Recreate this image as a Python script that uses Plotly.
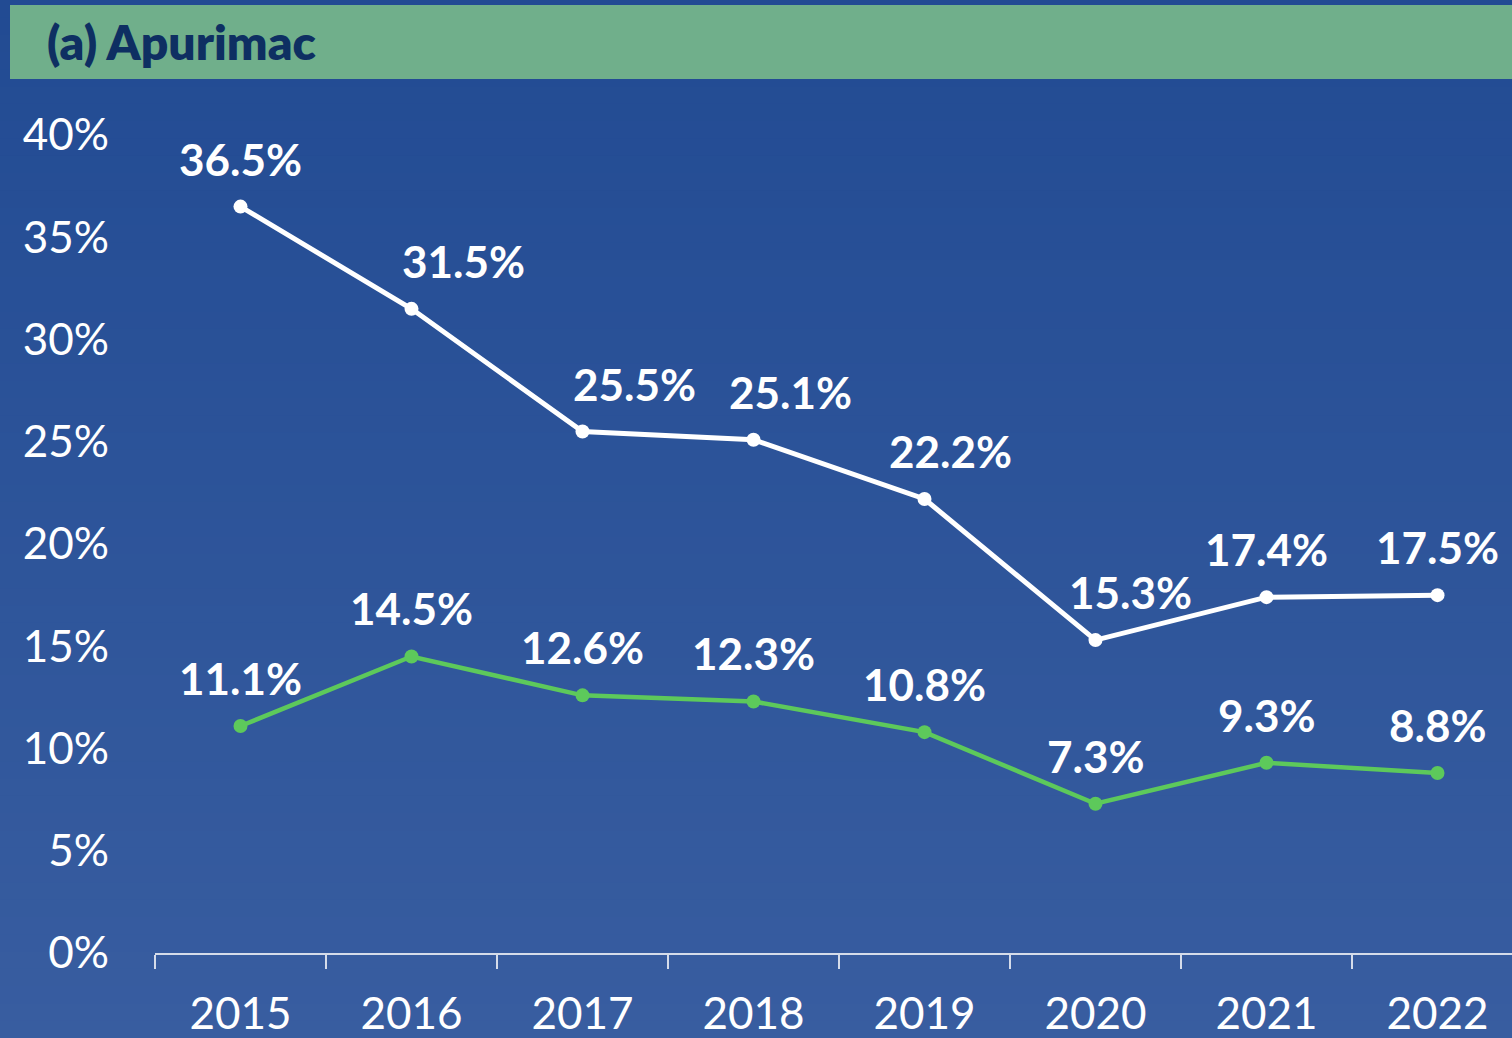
import plotly.graph_objects as go

years = ["2015", "2016", "2017", "2018", "2019", "2020", "2021", "2022"]
series_white = [36.5, 31.5, 25.5, 25.1, 22.2, 15.3, 17.4, 17.5]
series_green = [11.1, 14.5, 12.6, 12.3, 10.8, 7.3, 9.3, 8.8]
y_ticks = [0, 5, 10, 15, 20, 25, 30, 35, 40]
y_tick_labels = [f"{v}%" for v in y_ticks]
title_text = "(a) Apurimac"

# label horizontal offsets (px), styling only
white_xshift = [0, 52, 52, 37, 26, 35, 0, 0]
green_xshift = [0, 0, 0, 0, 0, 0, 0, 0]

W, H = 1512, 1038
L, R, T, B = 155, 0, 135, 85
PW, PH = W - L - R, H - T - B

def px_x(px):
    return (px - L) / PW

def px_y(py):
    return (H - B - py) / PH

WHITE = "#FFFFFF"
GREEN = "#5DC95B"
FONT = "Lato"

fig = go.Figure()
fig.add_trace(go.Scatter(x=years, y=series_white, mode="lines+markers",
                         line=dict(color=WHITE, width=5),
                         marker=dict(color=WHITE, size=14),
                         cliponaxis=False, showlegend=False, hoverinfo="skip"))
fig.add_trace(go.Scatter(x=years, y=series_green, mode="lines+markers",
                         line=dict(color=GREEN, width=4.5),
                         marker=dict(color=GREEN, size=14),
                         cliponaxis=False, showlegend=False, hoverinfo="skip"))

annotations = []
for vals, shifts in ((series_white, white_xshift), (series_green, green_xshift)):
    for i, (yv, xs) in enumerate(zip(vals, shifts)):
        annotations.append(dict(x=i, y=yv, xref="x", yref="y", text=f"{yv:.1f}%",
                                showarrow=False, xshift=xs, yshift=48,
                                font=dict(family=FONT, size=44, color=WHITE, weight=700)))

annotations.append(dict(x=px_x(45), y=px_y(42), xref="paper", yref="paper",
                        text=title_text, showarrow=False, xanchor="left", yanchor="middle",
                        font=dict(family=FONT, size=48, color="#0E2F62", weight=800)))

# gradient background strips
shapes = []
top_c = (0x22, 0x4B, 0x93)
bot_c = (0x38, 0x5D, 0xA0)
n = 60
for i in range(n):
    t = i / (n - 1)
    c = tuple(round(top_c[k] + (bot_c[k] - top_c[k]) * t) for k in range(3))
    y0 = H * i / n
    y1 = H * (i + 1) / n + 1
    shapes.append(dict(type="rect", xref="paper", yref="paper", layer="below",
                       x0=px_x(0), x1=px_x(W), y0=px_y(y1), y1=px_y(y0),
                       fillcolor="rgb(%d,%d,%d)" % c, line=dict(width=0)))
shapes.append(dict(type="rect", xref="paper", yref="paper", layer="below",
                   x0=px_x(10), x1=px_x(W), y0=px_y(79), y1=px_y(5),
                   fillcolor="#70AF8B", line=dict(width=0)))

fig.update_layout(
    width=W, height=H,
    margin=dict(l=L, r=R, t=T, b=B, pad=0),
    paper_bgcolor="#2B528F", plot_bgcolor="rgba(0,0,0,0)",
    shapes=shapes, annotations=annotations,
    xaxis=dict(type="category", range=[-0.5, 7.5 - 11 / 171], tickson="boundaries",
               showgrid=False, zeroline=False, showline=True, linecolor="#D5DCEA", linewidth=2,
               ticks="outside", ticklen=14, tickwidth=2, tickcolor="#D5DCEA",
               tickfont=dict(family=FONT, size=44, color=WHITE), ticklabelstandoff=21),
    yaxis=dict(range=[0, 40], tickvals=y_ticks, ticktext=y_tick_labels,
               showgrid=False, zeroline=False, showline=False, ticks="",
               tickfont=dict(family=FONT, size=44, color=WHITE), ticklabelstandoff=45),
)

fig.write_html("out.html", config={"displayModeBar": False},
               post_script="document.body.style.margin='0';document.body.style.overflow='hidden';")
